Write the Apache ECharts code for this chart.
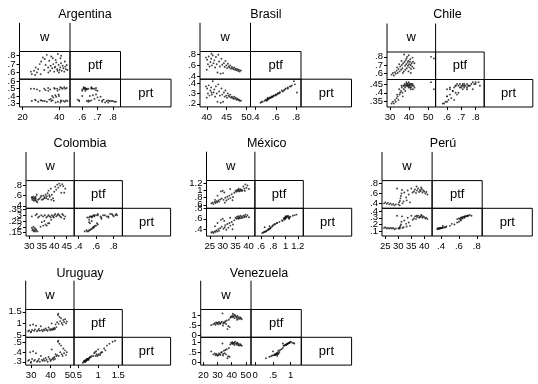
<!DOCTYPE html>
<html><head><meta charset="utf-8">
<script src="https://cdn.jsdelivr.net/npm/echarts@6/dist/echarts.min.js"></script>
<style>html,body{margin:0;padding:0;background:#fff}#c{width:538px;height:384px}</style>
</head><body><div id="c"></div><script>
const countries = ['Argentina','Brasil','Chile','Colombia','México','Perú','Uruguay','Venezuela'];
const varNames = ['w','ptf','prt'];

// ---- Argentina ----
const argW   = [25.0,26.2,27.1,27.8,28.5,29.3,30.1,31.0,31.8,32.5,33.2,33.9,34.5,35.0,35.6,36.1,36.7,37.2,37.8,38.3,38.8,39.2,39.6,40.1,40.5,40.9,41.3,41.8,42.2,42.7,43.2,43.6,44.0,44.4,36.4,34.0,38.0,39.8,29.8,24.5,41.0,37.5,35.3,43.0,32.0,39.0,26.8,40.6];
const argPtf = [.58,.62,.66,.60,.64,.70,.73,.78,.63,.69,.81,.66,.74,.62,.79,.65,.70,.61,.67,.72,.64,.82,.69,.63,.66,.71,.62,.68,.65,.61,.67,.64,.69,.63,.77,.60,.75,.60,.58,.61,.80,.66,.68,.73,.76,.62,.57,.77];
const argPrt = [.33,.50,.34,.49,.32,.47,.34,.33,.50,.48,.32,.51,.35,.49,.33,.40,.38,.51,.41,.39,.50,.32,.42,.49,.52,.34,.51,.50,.33,.52,.50,.34,.51,.33,.34,.47,.31,.40,.34,.50,.33,.50,.36,.32,.33,.47,.35,.31];
// ---- Brasil ----
const braW   = [39.8,40.1,40.3,40.5,40.7,40.9,41.1,41.3,41.5,41.7,41.9,42.1,42.3,42.5,42.7,42.9,43.1,43.3,43.5,43.7,43.9,44.1,44.3,44.5,44.7,44.9,45.1,45.3,45.5,45.7,45.9,46.1,46.3,46.5,46.7,46.9,47.1,47.3,47.5,47.7,47.9,48.1,48.3,48.6,41.2,40.0];
const braPtf = [.74,.70,.62,.76,.58,.66,.72,.60,.78,.64,.69,.56,.75,.62,.47,.79,.67,.58,.45,.72,.61,.46,.64,.57,.68,.60,.55,.63,.58,.56,.60,.54,.57,.55,.53,.56,.52,.54,.51,.53,.50,.52,.49,.51,.81,.52];
const braPrt = [.37,.35,.30,.38,.28,.33,.36,.29,.42,.31,.34,.27,.37,.30,.22,.39,.32,.28,.21,.35,.29,.22,.31,.27,.33,.28,.26,.30,.28,.27,.29,.26,.27,.26,.25,.27,.25,.26,.24,.25,.24,.24,.23,.23,.31,.26];
// ---- Chile ----
const chiW   = [30.8,31.5,32.0,32.6,33.0,33.5,34.0,34.4,35.0,35.3,35.8,36.2,36.5,36.9,37.2,37.6,37.9,38.2,38.5,38.8,39.0,39.2,39.4,39.6,39.8,40.0,40.2,40.4,40.6,40.8,41.0,41.3,41.6,42.0,42.4,38.0,36.0,34.8,39.7,41.8,51.5,53.0,37.4,40.9,33.7,38.6,42.8,36.7];
const chiPtf = [.58,.60,.57,.61,.59,.63,.60,.65,.62,.68,.64,.70,.66,.72,.62,.74,.69,.76,.71,.66,.80,.73,.69,.75,.82,.71,.67,.74,.77,.70,.65,.72,.68,.74,.66,.64,.75,.71,.62,.79,.80,.78,.83,.60,.67,.78,.72,.60];
const chiPrt = [.34,.35,.34,.36,.35,.37,.38,.36,.39,.40,.41,.43,.40,.44,.42,.45,.43,.44,.45,.44,.45,.44,.45,.44,.46,.44,.45,.43,.45,.44,.43,.45,.44,.42,.44,.41,.44,.42,.43,.45,.46,.42,.44,.42,.39,.46,.43,.38];
// ---- Colombia ----
const colW   = [31.2,31.5,31.8,32.0,32.2,32.4,32.6,31.0,32.8,31.6,33.2,35.6,36.5,37.0,34.5,38.0,35.0,36.0,37.5,31.0,32.5,33.5,34.0,34.8,35.5,36.2,36.8,37.3,37.7,38.2,38.6,39.0,39.5,40.0,40.4,40.8,41.2,41.6,42.0,42.4,42.8,43.2,43.6,44.0,44.4,38.8,33.0,39.8];
const colPtf = [.52,.55,.50,.53,.56,.51,.54,.57,.49,.58,.47,.60,.62,.59,.57,.61,.52,.55,.53,.56,.58,.52,.54,.60,.53,.57,.55,.65,.70,.58,.74,.62,.55,.68,.78,.72,.82,.76,.84,.80,.66,.83,.79,.66,.74,.52,.62,.50];
const colPrt = [.17,.18,.16,.17,.19,.16,.18,.19,.17,.20,.16,.21,.22,.21,.20,.23,.24,.25,.23,.29,.30,.28,.29,.30,.29,.30,.28,.29,.30,.29,.28,.30,.29,.30,.31,.29,.30,.31,.30,.29,.28,.31,.30,.27,.29,.26,.31,.28];
// ---- México ----
const mexW   = [25.6,26.0,26.4,26.8,27.2,27.5,27.9,28.3,28.6,29.0,29.3,29.6,30.0,30.3,30.6,31.0,31.4,31.8,32.2,32.6,33.0,33.5,34.0,34.5,35.0,35.3,35.6,35.9,36.1,36.4,36.6,36.9,37.1,37.4,37.7,38.0,38.4,38.8,39.2,39.6,40.2,28.0,33.8,36.2,30.8,27.0,38.6,32.9];
const mexPtf = [.64,.66,.62,.68,.65,.70,.67,.72,.69,.75,.98,.78,1.00,.74,.95,.80,.72,.83,.76,.86,.79,.90,.82,.94,1.00,.97,1.02,.99,1.03,.98,1.01,1.04,.99,1.02,1.00,1.12,1.06,1.18,1.08,1.15,1.05,.86,.73,1.06,.66,.74,1.00,1.05];
const mexPrt = [.34,.35,.33,.36,.35,.38,.36,.40,.37,.42,.58,.45,.60,.41,.56,.48,.39,.50,.43,.52,.47,.54,.49,.57,.62,.60,.64,.61,.65,.62,.63,.66,.61,.64,.62,.66,.63,.68,.64,.67,.63,.52,.40,.60,.44,.46,.65,.62];
// ---- Perú ----
const perW   = [24.5,25.0,25.5,26.0,26.5,27.0,27.5,28.0,28.5,29.0,30.0,30.3,30.6,30.8,31.0,31.2,31.4,31.6,30.5,32.0,32.3,33.2,33.6,34.0,34.5,35.0,35.5,36.0,36.4,36.8,37.2,37.6,38.0,38.3,38.6,39.0,39.3,39.6,40.0,40.4,40.8,41.2,38.8,37.0,29.5,33.0];
const perPtf = [.40,.42,.39,.41,.38,.40,.37,.39,.36,.38,.38,.42,.45,.50,.55,.60,.67,.40,.36,.44,.62,.46,.66,.58,.42,.70,.62,.64,.68,.61,.66,.70,.63,.67,.65,.69,.62,.66,.64,.60,.63,.58,.72,.74,.70,.52];
const perPrt = [.15,.16,.14,.15,.14,.15,.14,.15,.13,.14,.14,.15,.16,.18,.20,.24,.32,.15,.14,.16,.26,.17,.30,.23,.18,.33,.27,.29,.32,.28,.31,.33,.30,.32,.31,.33,.30,.32,.31,.29,.30,.28,.34,.33,.33,.21];
// ---- Uruguay ----
const uruW   = [28.5,29.0,29.5,30.0,30.5,31.0,31.5,32.0,32.5,33.0,33.5,34.0,34.5,35.0,35.5,36.0,36.5,37.0,37.5,38.0,38.5,39.0,39.5,40.0,40.3,40.6,41.0,41.3,41.6,42.0,42.3,42.6,43.0,43.4,43.8,44.2,44.6,45.0,45.4,45.8,46.2,46.6,47.0,47.5,48.0,48.4,29.8,44.0];
const uruPtf = [.66,.70,.92,.64,.72,.95,.68,.74,.90,.66,.70,.76,.68,.88,.72,.66,.74,.70,.78,.72,.68,.82,.74,.70,.76,1.00,.72,.78,.74,.80,.76,.96,.84,1.05,1.36,.98,1.28,1.10,1.22,1.02,.94,1.15,1.06,1.18,1.00,1.08,.62,1.42];
const uruPrt = [.31,.32,.40,.30,.33,.41,.31,.32,.39,.30,.31,.33,.30,.36,.32,.31,.33,.31,.34,.32,.30,.35,.33,.31,.32,.43,.33,.34,.32,.35,.33,.38,.36,.37,.51,.36,.49,.40,.47,.38,.36,.44,.39,.42,.37,.40,.29,.52];
// ---- Venezuela ----
const venW   = [25.5,27.0,28.0,28.5,29.0,29.5,30.0,30.5,31.0,31.5,32.0,32.5,33.0,33.5,34.0,34.5,35.0,35.5,36.0,36.5,37.0,37.5,38.0,39.0,39.5,40.0,40.5,41.0,41.5,42.0,42.5,43.0,43.5,44.0,44.5,45.0,45.5,46.0,46.5,47.0,41.8,38.5,33.8,43.8,40.8];
const venPtf = [.50,.55,.60,.52,.64,.58,.62,.55,.66,.60,.57,.63,.68,1.10,.59,.65,.62,.70,.56,.74,.30,.45,.78,.88,.95,.92,.98,.90,.96,.86,1.00,.93,.88,.97,.84,.91,.82,.89,.85,.80,1.04,.40,.48,.78,1.08];
const venPrt = [.55,.40,.45,.35,.42,.38,.33,.36,.44,.40,.37,.48,.52,.95,.42,.58,.46,.62,.40,.66,.20,.30,.72,.90,1.00,.95,1.02,.92,.98,.88,1.05,.96,.90,.99,.86,.93,.85,.92,.87,.84,1.00,.28,.34,.95,.97];

// ---- axis ranges and tick labels (w, ptf, prt) ----
const argWRange=[18.3,45.8], argPtfRange=[.52,.85], argPrtRange=[.25,.63];
const argWTicks=[20,40], argPtfTicks=[.6,.7,.8], argPrtTicks=[.3,.4,.5,.6];
const braWRange=[38.3,51], braPtfRange=[.35,.85], braPrtRange=[.17,.44];
const braWTicks=[40,45,50], braPtfTicks=[.4,.6,.8], braPrtTicks=[.2,.3,.4];
const chiWRange=[28.4,53.9], chiPtfRange=[.52,.86], chiPrtRange=[.32,.475];
const chiWTicks=[30,40,50], chiPtfTicks=[.6,.7,.8], chiPrtTicks=[.35,.4,.45];
const colWRange=[28.65,48], colPtfRange=[.35,.9], colPrtRange=[.12,.36];
const colWTicks=[30,35,40,45], colPtfTicks=[.4,.6,.8], colPrtTicks=[.15,.2,.25,.3,.35];
const mexWRange=[23.7,42.5], mexPtfRange=[.5,1.29], mexPrtRange=[.27,.8];
const mexWTicks=[25,30,35,40], mexPtfTicks=[.6,.8,1,1.2], mexPrtTicks=[.4,.6,.8];
const perWRange=[23.7,43], perPtfRange=[.3,.86], perPrtRange=[.03,.44];
const perWTicks=[25,30,35,40], perPtfTicks=[.4,.6,.8], perPrtTicks=[.1,.2,.3,.4];
const uruWRange=[27.2,52.1], uruPtfRange=[.4,1.6], uruPrtRange=[.265,.557];
const uruWTicks=[30,40,50], uruPtfTicks=[.5,1,1.5], uruPrtTicks=[.3,.4,.5];
const venWRange=[18.1,53.6], venPtfRange=[-.12,1.3], venPrtRange=[-.15,1.27];
const venWTicks=[20,30,40,50], venPtfTicks=[0,.5,1], venPrtTicks=[0,.5,1];

const dataSets = [
  {vals:[argW,argPtf,argPrt], ranges:[argWRange,argPtfRange,argPrtRange], ticks:[argWTicks,argPtfTicks,argPrtTicks]},
  {vals:[braW,braPtf,braPrt], ranges:[braWRange,braPtfRange,braPrtRange], ticks:[braWTicks,braPtfTicks,braPrtTicks]},
  {vals:[chiW,chiPtf,chiPrt], ranges:[chiWRange,chiPtfRange,chiPrtRange], ticks:[chiWTicks,chiPtfTicks,chiPrtTicks]},
  {vals:[colW,colPtf,colPrt], ranges:[colWRange,colPtfRange,colPrtRange], ticks:[colWTicks,colPtfTicks,colPrtTicks]},
  {vals:[mexW,mexPtf,mexPrt], ranges:[mexWRange,mexPtfRange,mexPrtRange], ticks:[mexWTicks,mexPtfTicks,mexPrtTicks]},
  {vals:[perW,perPtf,perPrt], ranges:[perWRange,perPtfRange,perPrtRange], ticks:[perWTicks,perPtfTicks,perPrtTicks]},
  {vals:[uruW,uruPtf,uruPrt], ranges:[uruWRange,uruPtfRange,uruPrtRange], ticks:[uruWTicks,uruPtfTicks,uruPrtTicks]},
  {vals:[venW,venPtf,venPrt], ranges:[venWRange,venPtfRange,venPrtRange], ticks:[venWTicks,venPtfTicks,venPrtTicks]}
];

// ---- layout (pixels) ----
const layout = [
  {L:19.5, cw:50.5, r2:51.5, rh:27.7, tx:85,    ty:15},
  {L:200,  cw:50.5, r2:51.5, rh:27.7, tx:266,   ty:15},
  {L:387,  cw:48.6, r2:52,   rh:27.5, tx:447.5, ty:15},
  {L:26,   cw:48.2, r2:180.6,rh:27.7, tx:80,    ty:143.5},
  {L:206.5,cw:48.4, r2:180.5,rh:27.8, tx:266.7, ty:143.5},
  {L:382,  cw:50.1, r2:180.6,rh:27.7, tx:443,   ty:143.5},
  {L:25.7, cw:48.3, r2:309.5,rh:27.8, tx:80,    ty:273.5},
  {L:200.7,cw:50.3, r2:309.5,rh:27.8, tx:259,   ty:273.5}
];

const FONT = 'Liberation Sans, Arial, Helvetica, sans-serif';
function fmt(v){
  let s = String(Math.round(v*1000)/1000);
  return s.replace(/^0\./,'.').replace(/^-0\./,'-.');
}
const xLabelBase = {formatter:fmt, fontSize:9.5, lineHeight:10, color:'#000', fontFamily:FONT, margin:5,
  hideOverlap:false, showMinLabel:true, showMaxLabel:true};
const grids=[], xAxes=[], yAxes=[], series=[], graphics=[], yLabelJobs=[];
// scatter cells: [row, col, xVar, yVar]
const cells = [[1,0,0,1],[2,0,0,2],[2,1,1,2]];
dataSets.forEach((ds, p) => {
  const g = layout[p];
  cells.forEach(([r,c,xv,yv]) => {
    const gi = grids.length;
    grids.push({left:g.L + c*g.cw, top:g.r2 + (r-1)*g.rh, width:g.cw, height:g.rh,
      show:true, borderColor:'#000', borderWidth:1, backgroundColor:'transparent',
      containLabel:false, outerBoundsMode:'none'});
    const showX = (r===2), showY = (c===0);
    xAxes.push({type:'value', gridIndex:gi, min:ds.ranges[xv][0], max:ds.ranges[xv][1],
      axisLine:{show:false}, splitLine:{show:false},
      axisTick:{show:showX, length:3, lineStyle:{color:'#000', width:1}, customValues:ds.ticks[xv]},
      axisLabel:Object.assign({show:showX, customValues:ds.ticks[xv]}, xLabelBase)
    });
    yAxes.push({type:'value', gridIndex:gi, min:ds.ranges[yv][0], max:ds.ranges[yv][1],
      axisLine:{show:false}, splitLine:{show:false},
      axisTick:{show:showY, length:3, lineStyle:{color:'#000', width:1}, customValues:ds.ticks[yv]},
      axisLabel:{show:false}
    });
    if (showY) yLabelJobs.push({gi:gi, x:g.L - 4, ticks:ds.ticks[yv]});
    series.push({type:'scatter', xAxisIndex:gi, yAxisIndex:gi, symbol:'circle', symbolSize:1.9,
      itemStyle:{color:'#111'}, silent:true,
      data: ds.vals[xv].map((v,i)=>[v, ds.vals[yv][i]])});
  });
  const top = g.r2 - g.rh - 1;
  const ls = {stroke:'#000', lineWidth:1};
  graphics.push({type:'line', shape:{x1:g.L, y1:top, x2:g.L, y2:g.r2}, style:ls, silent:true});
  graphics.push({type:'line', shape:{x1:g.L+g.cw, y1:top, x2:g.L+g.cw, y2:g.r2}, style:ls, silent:true});
  graphics.push({type:'rect', shape:{x:g.L+g.cw, y:g.r2, width:g.cw, height:g.rh}, style:{fill:null, stroke:'#000', lineWidth:1}, silent:true});
  graphics.push({type:'rect', shape:{x:g.L+2*g.cw, y:g.r2+g.rh, width:g.cw, height:g.rh}, style:{fill:null, stroke:'#000', lineWidth:1}, silent:true});
  const diag = [[g.L+g.cw/2, top+(g.r2-top)/2], [g.L+1.5*g.cw, g.r2+g.rh/2], [g.L+2.5*g.cw, g.r2+1.5*g.rh]];
  diag.forEach((pt,k)=>{
    graphics.push({type:'text', x:pt[0], y:pt[1], style:{text:varNames[k], fill:'#000', font:'13px '+FONT, textAlign:'center', textVerticalAlign:'middle'}, silent:true});
  });
  graphics.push({type:'text', x:g.tx, y:g.ty, style:{text:countries[p], fill:'#000', font:'12.5px '+FONT, textAlign:'center', textVerticalAlign:'middle'}, silent:true});
});

const chart = echarts.init(document.getElementById('c'), null, {renderer:'canvas'});
chart.setOption({animation:false, backgroundColor:'#fff', grid:grids, xAxis:xAxes, yAxis:yAxes, series:series, graphic:graphics});
// y tick labels placed through the axis scale of each cell
const yLabelGraphics = [];
yLabelJobs.forEach(job => {
  job.ticks.forEach(v => {
    const py = chart.convertToPixel({yAxisIndex: job.gi}, v);
    yLabelGraphics.push({type:'text', x:job.x, y:py, silent:true,
      style:{text:fmt(v), fill:'#000', font:'9.5px '+FONT, textAlign:'right', textVerticalAlign:'middle'}});
  });
});
chart.setOption({graphic: graphics.concat(yLabelGraphics)});
</script></body></html>
